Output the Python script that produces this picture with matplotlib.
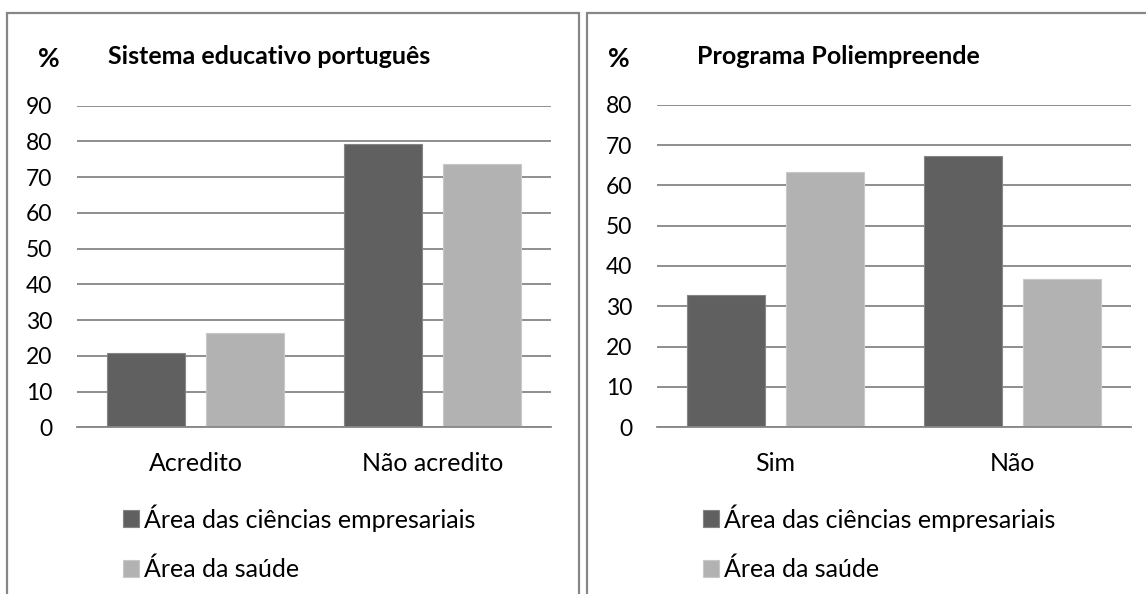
import matplotlib
matplotlib.use('Agg')
import matplotlib.pyplot as plt
from matplotlib.patches import Rectangle
import numpy as np

plt.rcParams['font.family'] = ['Lato', 'DejaVu Sans']

W, H = 1146, 594

series_names = ['Área das ciências empresariais', 'Área da saúde']
colors = ['#606060', '#b2b2b2']
edgecolors = ['#858585', '#c8c8c8']

left_title = 'Sistema educativo português'
left_categories = ['Acredito', 'Não acredito']
left_business = [20.8, 79.2]
left_health = [26.4, 73.6]
left_yticks = [0, 10, 20, 30, 40, 50, 60, 70, 80, 90]

right_title = 'Programa Poliempreende'
right_categories = ['Sim', 'Não']
right_business = [32.7, 67.3]
right_health = [63.2, 36.8]
right_yticks = [0, 10, 20, 30, 40, 50, 60, 70, 80]

fig = plt.figure(figsize=(W / 100, H / 100), dpi=100)


def rect(x0, y0, x1, y1):
    return [x0 / W, 1 - y1 / H, (x1 - x0) / W, (y1 - y0) / H]


# panel borders
for (bx0, bx1) in [(7, 579), (587, 1160)]:
    fig.add_artist(Rectangle((bx0 / W, -0.05), (bx1 - bx0) / W, (594 - 12.5) / H + 0.05,
                             transform=fig.transFigure, fill=False,
                             edgecolor='#878787', linewidth=1.6, zorder=0))

FS = 18
YFS = 16.5


def panel(axpos, cats, business, health, yticks, title, title_x, pct_x, leg_x):
    ax = fig.add_axes(rect(*axpos))
    x = np.arange(len(cats))
    off = 0.209
    bw = 0.329
    b1 = ax.bar(x - off, business, bw, color=colors[0], edgecolor=edgecolors[0],
                linewidth=0.8, zorder=3, label=series_names[0])
    b2 = ax.bar(x + off, health, bw, color=colors[1], edgecolor=edgecolors[1],
                linewidth=0.8, zorder=3, label=series_names[1])
    ax.set_xlim(-0.5, len(cats) - 0.5)
    ax.set_ylim(0, yticks[-1])
    ax.set_yticks(yticks)
    ax.set_xticks(x)
    ax.set_xticklabels(cats)
    ax.tick_params(axis='both', length=0, colors='#000000')
    ax.tick_params(axis='y', pad=18, labelsize=YFS)
    ax.tick_params(axis='x', pad=18, labelsize=FS)
    ax.yaxis.grid(True, color='#868686', linewidth=1.3)
    ax.set_axisbelow(True)
    for s in ['top', 'right', 'left']:
        ax.spines[s].set_visible(False)
    ax.spines['bottom'].set_color('#868686')
    ax.spines['bottom'].set_linewidth(1.3)
    ax.spines['bottom'].set_zorder(4)
    fig.text(pct_x / W, 1 - 59 / H, '%', fontsize=19, fontweight='bold', va='center', ha='left')
    fig.text(title_x / W, 1 - 56 / H, title, fontsize=18, fontweight='bold', va='center', ha='left')
    ax.legend(handles=[b1, b2], labels=series_names, loc='upper left',
              bbox_to_anchor=(leg_x / W, 1 - 504 / H), bbox_transform=fig.transFigure,
              frameon=False, fontsize=FS, handlelength=0.64, handleheight=0.64,
              handletextpad=0.2, labelspacing=1.05, borderpad=0, borderaxespad=0)
    return ax


panel((77, 105.5, 551, 427.3), left_categories, left_business, left_health,
      left_yticks, left_title, 108, 38, 123)
panel((657, 104.7, 1131, 427.3), right_categories, right_business, right_health,
      right_yticks, right_title, 697, 608, 703)

fig.savefig('out.png', dpi=100)
